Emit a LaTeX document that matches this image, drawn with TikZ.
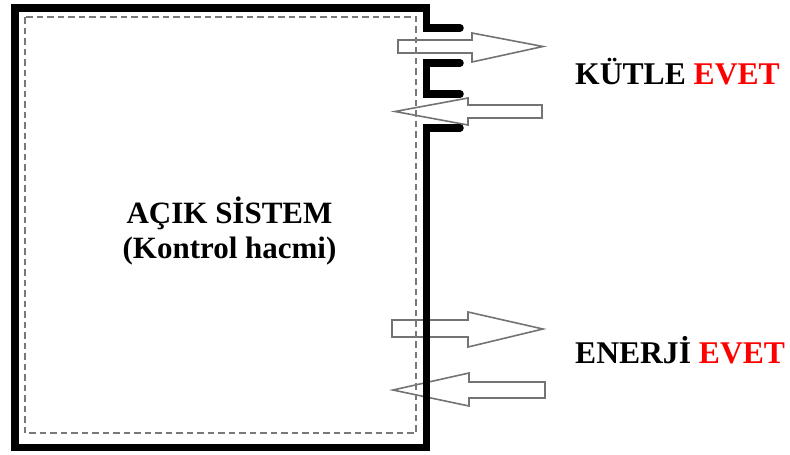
\documentclass[tikz,border=0pt]{standalone}
\usepackage{fontspec}
\setmainfont{Liberation Serif}
\definecolor{arrgray}{RGB}{115,115,115}
\definecolor{dashgray}{RGB}{120,120,120}
\definecolor{evetred}{RGB}{255,0,0}
\tikzset{
  wall/.style={line width=7.5pt, black, line cap=round, line join=miter},
  cvline/.style={line width=1.8pt, dashgray, dash pattern=on 6.5pt off 4pt},
  hollowarrow/.style={line width=1.6pt, arrgray, line join=miter},
  lbl/.style={inner sep=0pt, font=\fontsize{31.6}{36}\selectfont\bfseries},
  clbl/.style={inner sep=0pt, font=\fontsize{31}{36}\selectfont\bfseries}
}
\begin{document}
\begin{tikzpicture}[x=1pt,y=-1pt]
\useasboundingbox (0,0) rectangle (790,455);
% arrows (unfilled)
\draw[hollowarrow] (398,40) -- (472,40) -- (472,33) -- (543,46.5) -- (472,62) -- (472,53) -- (398,53) -- cycle;
\draw[hollowarrow] (542,105) -- (468,105) -- (468,98) -- (395,111.5) -- (468,125) -- (468,118) -- (542,118) -- cycle;
\draw[hollowarrow] (392,320) -- (468,320) -- (468,312) -- (543,329) -- (468,347) -- (468,337) -- (392,337) -- cycle;
\draw[hollowarrow] (545,382) -- (469,382) -- (469,373) -- (393,390) -- (469,406) -- (469,398) -- (545,398) -- cycle;
% control volume
\draw[cvline] (25,17) rectangle (416,433);
% walls
\draw[wall] (460,128) -- (426.5,128) -- (426.5,447.5) -- (15,447.5) -- (15,8) -- (426.5,8) -- (426.5,28) -- (460,28);
\draw[wall] (460,63) -- (426.5,63) -- (426.5,94) -- (460,94);
% labels
\node[clbl, anchor=base] (sys) at (229.5,223) {AÇIK SİSTEM};
\node[clbl, anchor=base] (cv) at (229.5,258) {(Kontrol hacmi)};
\node[lbl, anchor=base west] (mass) at (575,84) {KÜTLE \textcolor{evetred}{EVET}};
\node[lbl, anchor=base west] (energy) at (575,363) {ENERJİ \textcolor{evetred}{EVET}};
\end{tikzpicture}
\end{document}
